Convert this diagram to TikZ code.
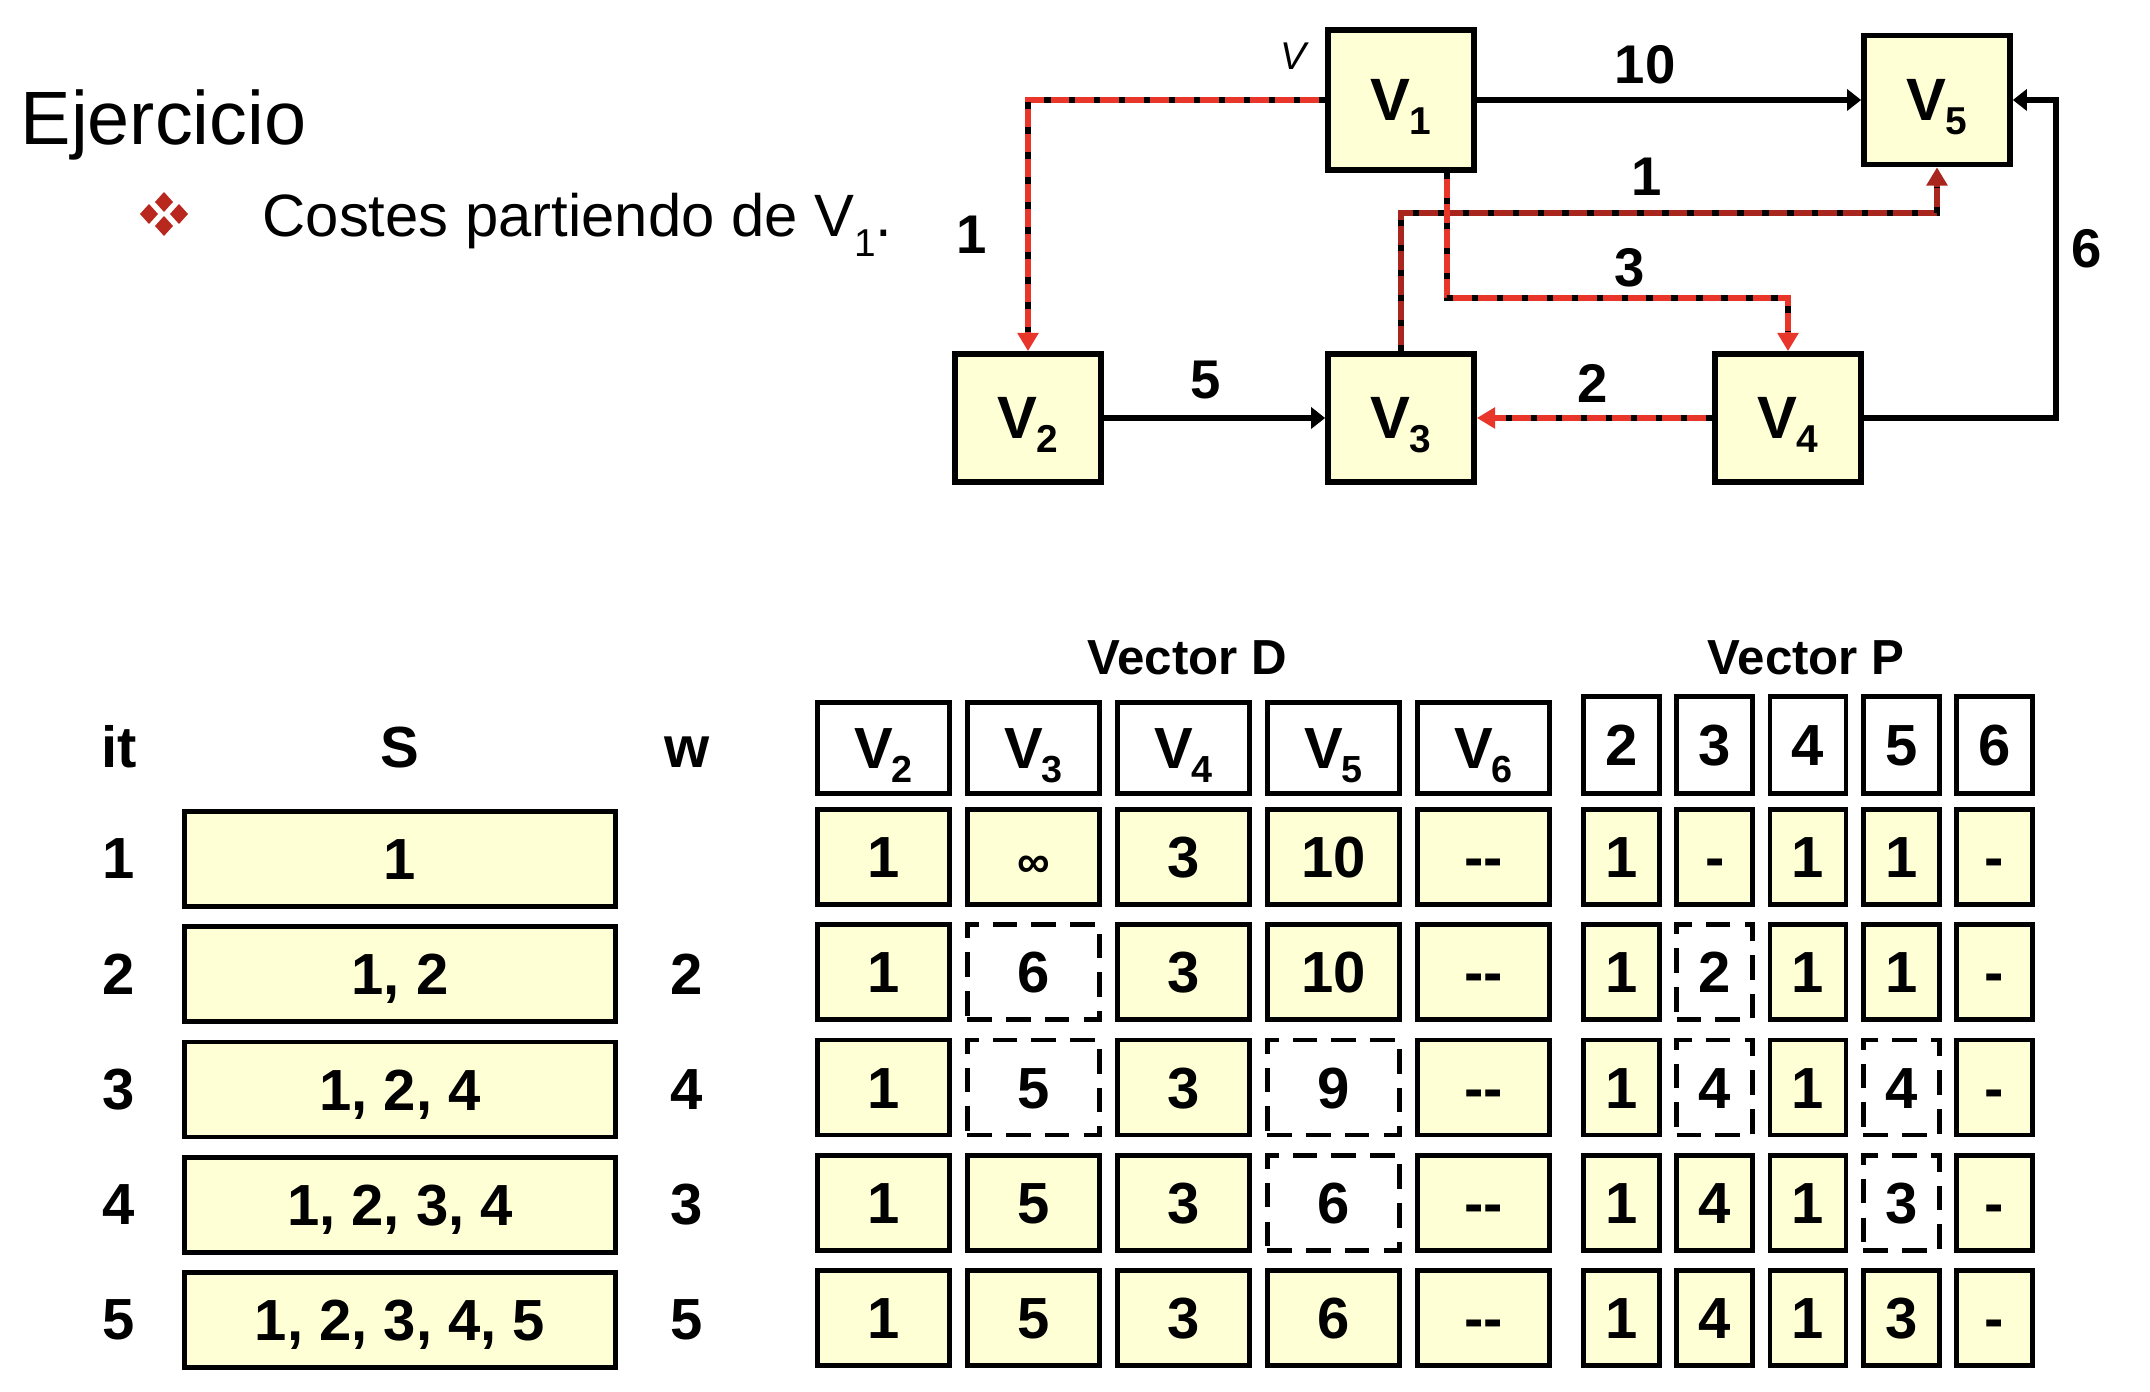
\documentclass[tikz,border=0pt]{standalone}
\usepackage{fontspec}
\setmainfont{Liberation Sans}
\usepackage{tikz}
\usetikzlibrary{arrows.meta}
\definecolor{amarillo}{RGB}{255,255,213}
\definecolor{rojo}{RGB}{232,55,42}
\definecolor{granate}{RGB}{168,38,30}
\definecolor{vinieta}{RGB}{185,40,30}
\newcommand{\vsub}[1]{V\kern-.02em\smash{\raisebox{-.24em}{\scalebox{.65}{#1}}}}

\begin{document}
\begin{tikzpicture}[
            x=0.01cm, y=-0.01cm,
            nodo/.style={draw, line width=1.6pt, fill=amarillo, minimum width=1.46cm, minimum height=1.28cm, inner sep=0pt, font=\bfseries\fontsize{17}{20}\selectfont},
            etiq/.style={inner sep=0pt, font=\bfseries\fontsize{15.5}{18}\selectfont},
            flecha/.style={line width=1.6pt, -{Triangle[length=4pt, width=6pt]}},
            camino/.style={draw=#1, line width=1.9pt, -{Triangle[length=5.2pt, width=5.8pt]},
                postaction={draw=black, -, shorten >=5.5pt, dash pattern=on 1.8pt off 5.3pt}},
            fija/.style={draw, line width=1.4pt, fill=amarillo, minimum height=0.95cm, inner sep=0pt, text height=11.8pt, text depth=0pt, font=\bfseries\fontsize{16.5}{19}\selectfont},
            nueva/.style={draw, line width=1.3pt, dash pattern=on 7pt off 4pt, minimum height=0.95cm, inner sep=0pt, text height=11.8pt, text depth=0pt, font=\bfseries\fontsize{16.5}{19}\selectfont},
            cabecera/.style={draw, line width=1.4pt, fill=white, inner sep=0pt, text height=11.8pt, text depth=0pt, font=\bfseries\fontsize{16.5}{19}\selectfont},
            texto/.style={inner sep=0pt, anchor=base, font=\bfseries\fontsize{16.5}{19}\selectfont},
        ]
            \useasboundingbox (0,0) rectangle (2150,1392);

            \node[anchor=base west, inner sep=0pt, font=\fontsize{21.5}{26}\selectfont] (titulo) at (20,145) {Ejercicio};
            \foreach \dx/\dy in {0/-12, -15/0, 15/0, 0/12}
                \fill[vinieta] (164+\dx,214+\dy) +(0,-10) -- +(9,0) -- +(0,10) -- +(-9,0) -- cycle;
            \node[anchor=base west, inner sep=0pt, font=\fontsize{17}{20}\selectfont] (costes) at (262,237)
                {Costes partiendo de V\smash{\raisebox{-.32em}{\scalebox{.65}{1}}}.};

            \node[nodo, minimum height=1.40cm] (V1) at (1401,100) {\vsub{1}};
            \node[nodo, minimum height=1.29cm] (V5) at (1937,100) {\vsub{5}};
            \node[nodo] (V2) at (1028,418) {\vsub{2}};
            \node[nodo] (V3) at (1401,418) {\vsub{3}};
            \node[nodo] (V4) at (1788,418) {\vsub{4}};
            \node[inner sep=0pt, font=\itshape\fontsize{11}{13}\selectfont] (vini) at (1293,56) {V};

            \coordinate (k14) at (1600,298);
            \coordinate (k35) at (1700,213);
            \coordinate (k45) at (2056,250);

            \draw[flecha] (V1.east) -- (V1.east -| V5.west);
            \draw[flecha] (V2) -- (V3);
            \draw[flecha] (V4.east) -| (k45) |- (V5.east);
            \draw[camino=granate] (V3.north) |- (k35) -| (V5.south);
            \draw[camino=rojo] (V1.west) -| (V2.north);
            \draw[camino=rojo] ([xshift=0.46cm]V1.south) |- (k14) -| (V4.north);
            \draw[camino=rojo] (V4) -- (V3);

            \node[etiq] (l10) at (1645,65) {10};
            \node[etiq] (l12) at (972,235) {1};
            \node[etiq] (l35) at (1647,177) {1};
            \node[etiq] (l14) at (1630,268) {3};
            \node[etiq] (l43) at (1593,383) {2};
            \node[etiq] (l23) at (1206,380) {5};
            \node[etiq] (l45) at (2087,249) {6};

            \node[texto, font=\bfseries\fontsize{14}{17}\selectfont] (vecD) at (1187,675) {Vector D};
            \node[texto, font=\bfseries\fontsize{14}{17}\selectfont] (vecP) at (1806,675) {Vector P};
            \node[texto] (hit) at (119,768) {it};
            \node[texto] (hS) at (400,768) {S};
            \node[texto] (hw) at (687,768) {w};

            \foreach \j/\t in {1/2, 2/3, 3/4, 4/5, 5/6} {
                \node[cabecera, minimum width=1.32cm, minimum height=0.91cm] (dh\j) at ({883.5+150*(\j-1)},748) {\vsub{\t}};
                \node[cabecera, minimum width=0.76cm, minimum height=0.97cm] (ph\j) at ({1621.5+93.25*(\j-1)},745) {\t};
            }

            \foreach \i/\s/\w in {1/1/{}, 2/{1, 2}/2, 3/{1, 2, 4}/4, 4/{1, 2, 3, 4}/3, 5/{1, 2, 3, 4, 5}/5} {
                \node[texto, anchor=center] (it\i) at (119,{859+115.25*(\i-1)}) {\i};
                \node[fija, minimum width=4.31cm] (s\i) at (400,{859+115.25*(\i-1)}) {\s};
                \node[texto, anchor=center] (w\i) at (687,{859+115.25*(\i-1)}) {\w};
            }

            \foreach \i/\fila in {
                    1/{fija/1, fija/{\fontsize{13}{15}\selectfont ∞}, fija/3, fija/10, fija/{-}{-}},
                    2/{fija/1, nueva/6, fija/3, fija/10, fija/{-}{-}},
                    3/{fija/1, nueva/5, fija/3, nueva/9, fija/{-}{-}},
                    4/{fija/1, fija/5, fija/3, nueva/6, fija/{-}{-}},
                    5/{fija/1, fija/5, fija/3, fija/6, fija/{-}{-}}} {
                \foreach \e/\v [count=\j] in \fila
                    \node[\e, minimum width=1.32cm] (d\i\j) at ({883.5+150*(\j-1)},{857+115.25*(\i-1)}) {\v};
            }

            \foreach \i/\fila in {
                    1/{fija/1, fija/-, fija/1, fija/1, fija/-},
                    2/{fija/1, nueva/2, fija/1, fija/1, fija/-},
                    3/{fija/1, nueva/4, fija/1, nueva/4, fija/-},
                    4/{fija/1, fija/4, fija/1, nueva/3, fija/-},
                    5/{fija/1, fija/4, fija/1, fija/3, fija/-}} {
                \foreach \e/\v [count=\j] in \fila
                    \node[\e, minimum width=0.76cm] (p\i\j) at ({1621.5+93.25*(\j-1)},{857+115.25*(\i-1)}) {\v};
            }
        \end{tikzpicture}
\end{document}
